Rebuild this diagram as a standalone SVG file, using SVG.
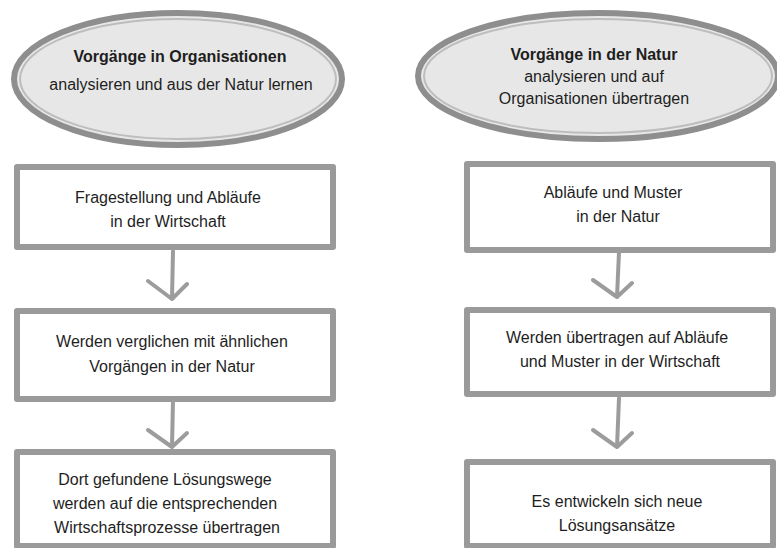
<svg xmlns="http://www.w3.org/2000/svg" width="777" height="548" viewBox="0 0 777 548">
<style>
.ell{fill:#e7e7e7;stroke:#8e8e8e;stroke-width:6}
.ell2{fill:none;stroke:#bdbdbd;stroke-width:2}
.box{fill:#ffffff;stroke:#9a9a9a;stroke-width:6;stroke-linejoin:round}
.t{font-family:"Liberation Sans",Arial,sans-serif;font-size:16px;fill:#1e1e1e;text-anchor:middle}
.b{font-weight:bold}
.arr{fill:none;stroke:#9c9c9c;stroke-width:4;stroke-linecap:round;stroke-linejoin:round}
</style>
<rect width="777" height="548" fill="#ffffff"/>
<g id="n-left-head">
<ellipse class="ell" cx="178" cy="79" rx="164" ry="66"/>
<ellipse class="ell2" cx="178" cy="79" rx="158" ry="60"/>
<text class="t b" x="180" y="62">Vorgänge in Organisationen</text>
<text class="t" x="181" y="90">analysieren und aus der Natur lernen</text>
</g>
<g id="n-right-head">
<ellipse class="ell" cx="598" cy="76" rx="180" ry="63"/>
<ellipse class="ell2" cx="598" cy="76" rx="174" ry="57"/>
<text class="t b" x="594" y="60">Vorgänge in der Natur</text>
<text class="t" x="594" y="82">analysieren und auf</text>
<text class="t" x="594" y="104">Organisationen übertragen</text>
</g>
<g id="n-l1">
<rect class="box" x="17" y="167" width="316" height="80"/>
<text class="t" x="168" y="203">Fragestellung und Abläufe</text>
<text class="t" x="168" y="227">in der Wirtschaft</text>
</g>
<g id="n-l2">
<rect class="box" x="17" y="311" width="316" height="88"/>
<text class="t" x="172" y="347">Werden verglichen mit ähnlichen</text>
<text class="t" x="172" y="372">Vorgängen in der Natur</text>
</g>
<g id="n-l3">
<rect class="box" x="17" y="452" width="316" height="94"/>
<text class="t" x="165" y="485">Dort gefundene Lösungswege</text>
<text class="t" x="165" y="509">werden auf die entsprechenden</text>
<text class="t" x="167" y="533">Wirtschaftsprozesse übertragen</text>
</g>
<g id="n-r1">
<rect class="box" x="467" y="164" width="306" height="86"/>
<text class="t" x="613" y="198">Abläufe und Muster</text>
<text class="t" x="618" y="222">in der Natur</text>
</g>
<g id="n-r2">
<rect class="box" x="467" y="310" width="306" height="84"/>
<text class="t" x="617" y="343">Werden übertragen auf Abläufe</text>
<text class="t" x="620" y="367">und Muster in der Wirtschaft</text>
</g>
<g id="n-r3">
<rect class="box" x="467" y="462" width="306" height="84"/>
<text class="t" x="617" y="507">Es entwickeln sich neue</text>
<text class="t" x="617" y="531">Lösungsansätze</text>
</g>
<g id="connectors">
<path class="arr" d="M173 251 L172 299 M148 281 L172 299 L187 284"/>
<path class="arr" d="M173 400 L172 447 M148 430 L172 447 L187 433"/>
<path class="arr" d="M619 252 L617 297 M593 280 L617 297 L632 283"/>
<path class="arr" d="M619 398 L617 447 M593 430 L617 447 L632 433"/>
</g>
</svg>
